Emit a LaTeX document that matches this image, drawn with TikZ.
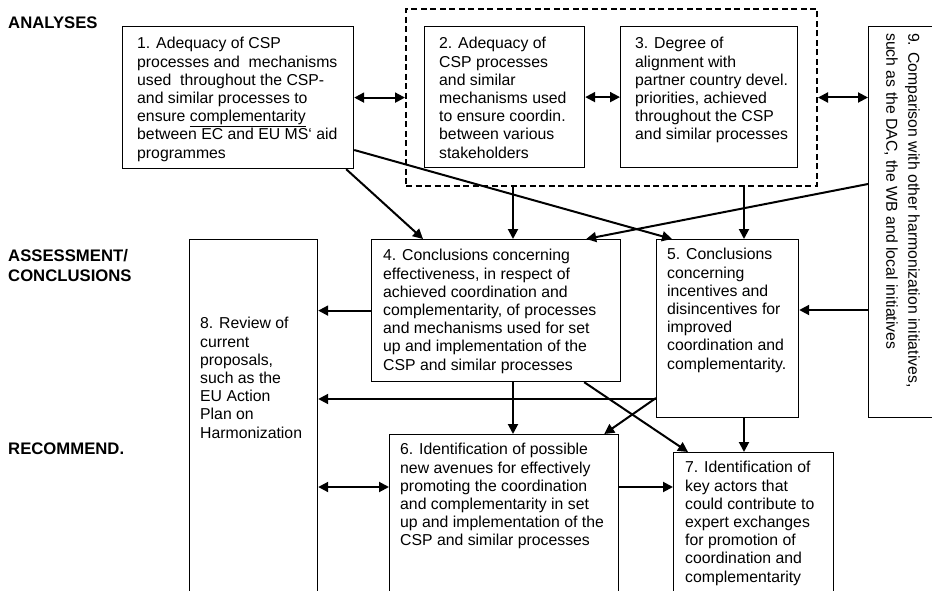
\documentclass[tikz,border=0pt]{standalone}
\usepackage{fontspec}
\setmainfont{Liberation Sans}
\usetikzlibrary{arrows.meta,calc}
\begin{document}
\begin{tikzpicture}[x=1pt,y=-1pt,
  box/.style={draw, line width=1.2pt, inner sep=0pt, anchor=north west},
  dbox/.style={draw, line width=2pt, dash pattern=on 6pt off 3.5pt, inner sep=0pt, anchor=north west},
  txt/.style={anchor=north west, inner sep=0pt, align=left, font=\fontsize{15.8}{18.2}\selectfont},
  lab/.style={anchor=base west, inner sep=0pt, font=\fontsize{16.7}{20}\selectfont\bfseries},
  arr/.style={line width=2pt, -{Triangle[length=10pt,width=10pt]}},
  darr/.style={line width=2pt, {Triangle[length=10pt,width=10pt]}-{Triangle[length=10pt,width=10pt]}}]
\useasboundingbox (0,0) rectangle (932,591);
\clip (0,0) rectangle (932,591);
\fill[white] (0,0) rectangle (932,591);

% labels
\node[lab] (lA) at (8,29) {ANALYSES};
\node[lab] (lB) at (8,261) {ASSESSMENT/};
\node[lab] (lC) at (8,281) {CONCLUSIONS};
\node[lab] (lD) at (8,454) {RECOMMEND.};

% boxes
\node[dbox, minimum width=411pt, minimum height=177pt] (bd) at (405,8) {};
\node[box, minimum width=231pt, minimum height=142pt] (b1) at (122,26) {};
\node[box, minimum width=160pt, minimum height=141pt] (b2) at (424,26) {};
\node[box, minimum width=177pt, minimum height=141pt] (b3) at (620,26) {};
\node[box, minimum width=80pt, minimum height=391pt] (b9) at (868,26) {};
\node[box, minimum width=249pt, minimum height=142pt] (b4) at (371,239) {};
\node[box, minimum width=142pt, minimum height=178pt] (b5) at (656,239) {};
\node[box, minimum width=128pt, minimum height=365pt] (b8) at (189,239) {};
\node[box, minimum width=229pt, minimum height=170pt] (b6) at (389,434) {};
\node[box, minimum width=160pt, minimum height=152pt] (b7) at (673,452) {};

% texts
\node[txt] (t1) at (137,36) {\strut 1. Adequacy of CSP\\processes and~ mechanisms\\used~ throughout the CSP-\\and similar processes to\\ensure \underline{complementarity}\\between EC and EU MS‘ aid\\programmes};
\node[txt] (t2) at (439,36) {\strut 2. Adequacy of\\CSP processes\\and similar\\mechanisms used\\to ensure coordin.\\between various\\stakeholders};
\node[txt] (t3) at (635,36) {\strut 3. Degree of\\alignment with\\partner country devel.\\priorities, achieved\\throughout the CSP\\and similar processes};
\node[txt] (t4) at (383,248) {\strut 4. Conclusions concerning\\effectiveness, in respect of\\achieved coordination and\\complementarity, of processes\\and mechanisms used for set\\up and implementation of the\\CSP and similar processes};
\node[txt] (t5) at (667,247) {\strut 5. Conclusions\\concerning\\incentives and\\disincentives for\\improved\\coordination and\\complementarity.};
\node[txt] (t8) at (200,316) {\strut 8. Review of\\current\\proposals,\\such as the\\EU Action\\Plan on\\Harmonization};
\node[txt] (t6) at (400,442) {\strut 6. Identification of possible\\new avenues for effectively\\promoting the coordination\\and complementarity in set\\up and implementation of the\\CSP and similar processes};
\node[txt] (t7) at (685,460) {\strut 7. Identification of\\key actors that\\could contribute to\\expert exchanges\\for promotion of\\coordination and\\complementarity};
\node[txt, rotate=-90, font=\fontsize{15.8}{22}\selectfont] (t9) at (924,33) {\strut 9. Comparison with other harmonization initiatives,\\such as the DAC, the WB and local initiatives};

% connectors
\draw[darr] (b1.east) -- (bd.west |- b1.east);
\draw[darr] (b2.east) -- (b3.west);
\draw[darr] (bd.east) -- (b9.west |- bd.east);
\draw[arr] ($(b1.south east)+(-8,0)$) -- ($(b4.north west)+(52,0)$);
\draw[arr] ($(bd.south west)+(108,0)$) coordinate (p1) -- (p1 |- b4.north);
\draw[arr] ($(b1.north east)+(0,124)$) -- ($(b5.north west)+(16,0)$);
\draw[arr] ($(b9.north west)+(0,158)$) -- ($(b4.north east)+(-35,0)$);
\draw[arr] ($(bd.south west)+(339,0)$) coordinate (p2) -- (p2 |- b5.north);
\draw[arr] (b4.west) -- (b8.east |- b4.west);
\draw[arr] ($(b9.north west)+(0,284)$) coordinate (p3) -- (b5.east |- p3);
\draw[arr] ($(b5.north west)+(0,160)$) coordinate (p4) -- (b8.east |- p4);
\draw[arr] ($(b4.south west)+(142,0)$) coordinate (p5) -- (p5 |- b6.north);
\draw[arr] ($(b5.north west)+(0,159)$) -- ($(b6.north east)+(-15,0)$);
\draw[arr] ($(b4.south east)+(-37,0)$) -- ($(b7.north west)+(15,0)$);
\draw[arr] ($(b5.south west)+(88,0)$) coordinate (p6) -- (p6 |- b7.north);
\draw[darr] ($(b6.north west)+(0,53)$) coordinate (p7) -- (b8.east |- p7);
\draw[arr] (b6.east |- p7) -- (b7.west |- p7);
\end{tikzpicture}
\end{document}
